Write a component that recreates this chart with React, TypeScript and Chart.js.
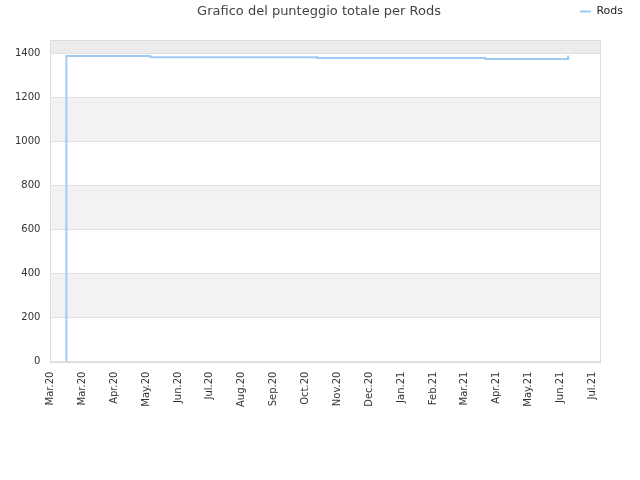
import React, { useEffect, useRef } from "react";
import { Chart, registerables, ChartConfiguration, Plugin } from "chart.js";

Chart.register(...registerables);

const chartTitle = "Grafico del punteggio totale per Rods";
const seriesName = "Rods";

// x tick labels, one per month step
const monthLabels = [
  "Mar.20",
  "Mar.20",
  "Apr.20",
  "May.20",
  "Jun.20",
  "Jul.20",
  "Aug.20",
  "Sep.20",
  "Oct.20",
  "Nov.20",
  "Dec.20",
  "Jan.21",
  "Feb.21",
  "Mar.21",
  "Apr.21",
  "May.21",
  "Jun.21",
  "Jul.21",
];

// positions on the month axis (0 = first Mar.20 tick) and total scores
const stepPositions = [0.5, 0.5, 3.13, 8.37, 13.64, 16.24];
const totalScores = [0, 1387, 1382, 1378, 1374, 1390];

const yTicks = [0, 200, 400, 600, 800, 1000, 1200, 1400];
const yMax = 1460;
const xMax = 17.24;

const fontFamily = "'DejaVu Sans', sans-serif";

// alternating grey bands + frame + centred title
const decorPlugin: Plugin<"line"> = {
  id: "decor",
  beforeLayout(chart) {
    const legend = chart.legend as any;
    if (legend && !legend.__patched) {
      const fit = legend.fit;
      legend.fit = function () {
        fit.call(this);
        this.height += 13;
      };
      legend.__patched = true;
    }
  },
  beforeDraw(chart) {
    const { ctx, chartArea } = chart;
    const y = chart.scales.y;
    const bounds = [...yTicks, yMax];
    ctx.save();
    for (let i = 0; i < bounds.length - 1; i++) {
      if (i % 2 === 0) continue;
      const top = y.getPixelForValue(bounds[i + 1]);
      const bottom = y.getPixelForValue(bounds[i]);
      ctx.fillStyle = i === bounds.length - 2 ? "#ececec" : "#f2f2f2";
      ctx.fillRect(chartArea.left, top, chartArea.right - chartArea.left, bottom - top);
    }
    ctx.restore();
  },
  afterDraw(chart) {
    const { ctx, chartArea } = chart;
    ctx.save();
    ctx.strokeStyle = "#dcdcdc";
    ctx.lineWidth = 1;
    ctx.strokeRect(
      Math.round(chartArea.left) + 0.5,
      Math.round(chartArea.top) + 0.5,
      Math.round(chartArea.right - chartArea.left),
      Math.round(chartArea.bottom - chartArea.top)
    );
    ctx.font = `13px ${fontFamily}`;
    ctx.fillStyle = "#444";
    ctx.textAlign = "center";
    ctx.textBaseline = "middle";
    ctx.fillText(chartTitle, chart.width / 2 - 1, 12);
    ctx.restore();
  },
};

const App: React.FC = () => {
  const chartRef = useRef<HTMLCanvasElement | null>(null);
  const chartInstanceRef = useRef<Chart<"line"> | null>(null);

  useEffect(() => {
    const canvas = chartRef.current;
    if (!canvas) return;
    const ctx = canvas.getContext("2d");
    if (!ctx) return;

    if (chartInstanceRef.current) {
      chartInstanceRef.current.destroy();
    }

    const points = stepPositions.map((x, i) => ({ x, y: totalScores[i] }));

    const config: ChartConfiguration<"line"> = {
      type: "line",
      data: {
        datasets: [
          {
            label: seriesName,
            data: points,
            borderColor: "#9fcbf3",
            backgroundColor: "#9fcbf3",
            borderWidth: 2,
            pointRadius: 0,
            stepped: "before",
            fill: false,
          },
        ],
      },
      options: {
        animation: false,
        responsive: false,
        maintainAspectRatio: false,
        layout: {
          padding: { left: 5, right: 11, top: 0, bottom: 63 },
        },
        scales: {
          x: {
            type: "linear",
            min: 0,
            max: xMax,
            afterBuildTicks: (scale) => {
              scale.ticks = monthLabels.map((_, i) => ({ value: i }));
            },
            afterFit: (scale) => {
              scale.paddingRight = 40;
            },
            grid: { display: false, drawTicks: false },
            border: { display: false },
            ticks: {
              autoSkip: false,
              maxRotation: 90,
              minRotation: 90,
              padding: 10,
              color: "#333",
              font: { family: fontFamily, size: 10 },
              callback: (value) => monthLabels[Number(value)] ?? "",
            },
          },
          y: {
            min: 0,
            max: yMax,
            afterBuildTicks: (scale) => {
              scale.ticks = yTicks.map((v) => ({ value: v }));
            },
            grid: { color: "#e0e0e0", drawTicks: false },
            border: { display: false },
            ticks: {
              padding: 10,
              color: "#333",
              font: { family: fontFamily, size: 10 },
              callback: (value) => String(value),
            },
          },
        },
        plugins: {
          title: { display: false },
          tooltip: { enabled: false },
          legend: {
            display: true,
            position: "top",
            align: "end",
            labels: {
              usePointStyle: true,
              pointStyle: "line",
              pointStyleWidth: 11,
              boxHeight: 11,
              padding: 6,
              color: "#222",
              font: { family: fontFamily, size: 11 },
            },
          },
        },
      },
      plugins: [decorPlugin],
    };

    chartInstanceRef.current = new Chart(ctx, config);

    return () => {
      if (chartInstanceRef.current) {
        chartInstanceRef.current.destroy();
        chartInstanceRef.current = null;
      }
    };
  }, []);

  return (
    <div style={{ position: "absolute", left: 0, top: 0, width: 640, height: 480, background: "#fff" }}>
      <canvas ref={chartRef} width={640} height={480} style={{ width: 640, height: 480 }} />
    </div>
  );
};

export default App;
